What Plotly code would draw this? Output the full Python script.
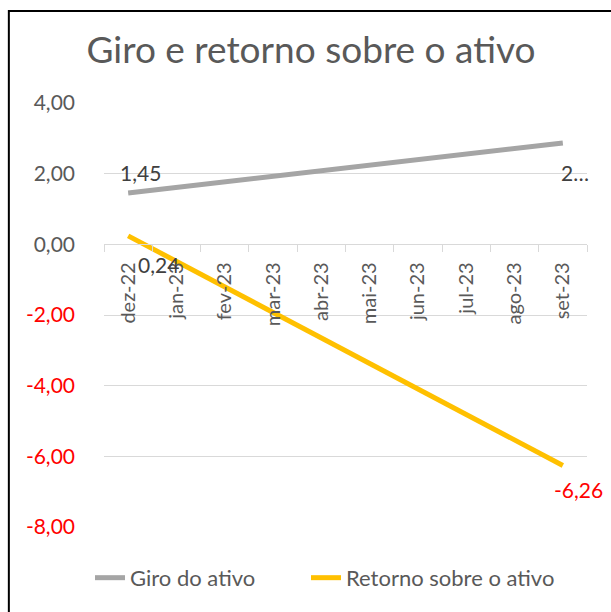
import plotly.graph_objects as go

categories = ["dez-22", "jan-23", "fev-23", "mar-23", "abr-23", "mai-23",
              "jun-23", "jul-23", "ago-23", "set-23"]
giro = [1.45, None, None, None, None, None, None, None, None, 2.87]
retorno = [0.24, None, None, None, None, None, None, None, None, -6.26]
y_ticks = [4, 2, 0, -2, -4, -6, -8]

def fmt(v):
    return f"{v:.2f}".replace(".", ",")

def tick_label(v):
    s = fmt(v)
    return f"<span style='color:#FF0000'>{s}</span>" if v < 0 else s

FONT = "Lato, 'Noto Sans', sans-serif"
GRAY = "#A5A5A5"
YELLOW = "#FFC000"
TXT = "#595959"
FS = 20
DL = 21

fig = go.Figure()
fig.add_trace(go.Scatter(x=categories, y=giro, mode="lines", name="Giro do ativo",
                         connectgaps=True, line=dict(color=GRAY, width=5),
                         legendwidth=171, hoverinfo="skip"))
fig.add_trace(go.Scatter(x=categories, y=retorno, mode="lines", name="Retorno sobre o ativo",
                         connectgaps=True, line=dict(color=YELLOW, width=5),
                         legendwidth=260, hoverinfo="skip"))

# data labels
fig.add_annotation(x=categories[0], y=giro[0], text=fmt(giro[0]), showarrow=False,
                   xshift=12, yshift=21, font=dict(family=FONT, size=DL, color="#404040"))
fig.add_annotation(x=categories[0], y=retorno[0], text=fmt(retorno[0]), showarrow=False,
                   xshift=30, yshift=-29, font=dict(family=FONT, size=DL, color="#404040"))
fig.add_annotation(x=categories[-1], y=giro[-1], text="2…", showarrow=False,
                   xshift=12, yshift=-30, font=dict(family=FONT, size=DL, color="#404040"))
fig.add_annotation(x=categories[-1], y=retorno[-1], text=fmt(retorno[-1]), showarrow=False,
                   xshift=16, yshift=-24, font=dict(family=FONT, size=DL, color="#FF0000"))

# chart border (left and top visible)
fig.add_shape(type="rect", xref="paper", yref="paper", x0=-0.197, x1=1.2, y0=-0.4, y1=1.217,
              line=dict(color="black", width=2), fillcolor="rgba(0,0,0,0)", layer="above")

fig.update_layout(
    width=611, height=612,
    margin=dict(l=104, r=24, t=103, b=85, autoexpand=False),
    paper_bgcolor="white", plot_bgcolor="white",
    title=dict(text="Giro e retorno sobre o ativo", x=0.509, xanchor="center",
               y=0.918, yanchor="middle", automargin=False,
               font=dict(family=FONT, size=37, color=TXT)),
    font=dict(family=FONT, color=TXT),
    showlegend=True,
    legend=dict(orientation="h", x=-0.029, xanchor="left", y=-0.12, yanchor="middle",
                font=dict(family=FONT, size=22, color=TXT),
                bgcolor="rgba(0,0,0,0)"),
    xaxis=dict(type="category", anchor="free", position=8 / 12, showgrid=False,
               showline=True, linecolor="#D9D9D9", linewidth=1, automargin=False,
               ticks="outside", tickson="boundaries", ticklen=7, tickcolor="#D9D9D9",
               ticklabelstandoff=9,
               tickangle=-90, tickfont=dict(family=FONT, size=FS, color=TXT),
               range=[-0.5, 9.5], zeroline=False),
    yaxis=dict(range=[-8, 4], tickvals=y_ticks, ticktext=[tick_label(v) for v in y_ticks],
               showgrid=True, gridcolor="#D9D9D9", gridwidth=1, zeroline=False,
               showline=False, ticks="", ticklabelstandoff=28, automargin=False,
               tickfont=dict(family=FONT, size=21, color=TXT)),
)

fig.write_html("out.html", config={"displayModeBar": False},
               post_script="document.body.style.margin='0';")
